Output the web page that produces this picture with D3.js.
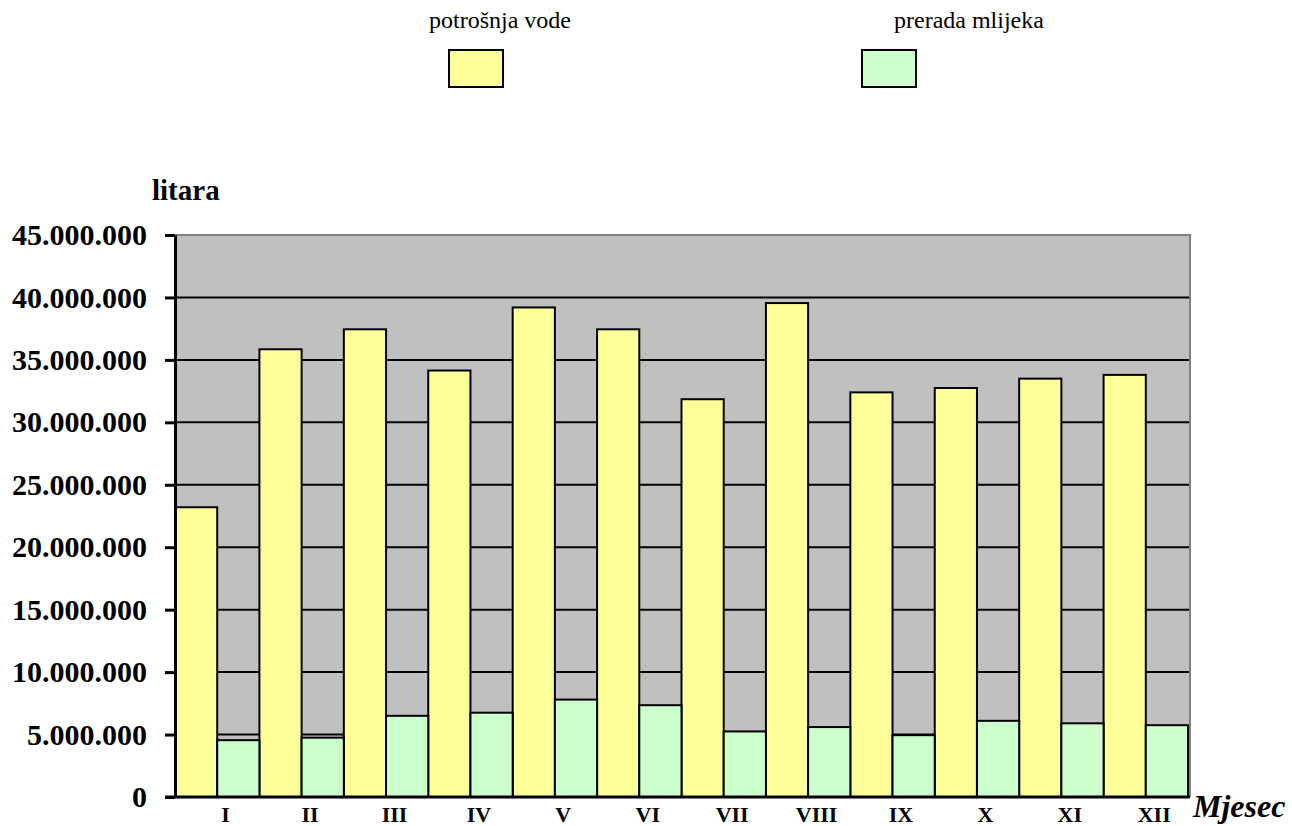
<!DOCTYPE html>
<html>
<head>
<meta charset="utf-8">
<script src="https://cdn.jsdelivr.net/npm/d3@7"></script>
<style>
  body { margin: 0; background: #fff; }
  svg text { font-family: "Liberation Serif", "Times New Roman", Times, "DejaVu Serif", serif; }
</style>
</head>
<body>
<div id="container"></div>
<script>
// Data
const months = ["I", "II", "III", "IV", "V", "VI", "VII", "VIII", "IX", "X", "XI", "XII"];
const potrosnjaVode = [23200000, 35850000, 37450000, 34150000, 39200000, 37450000, 31850000, 39550000, 32400000, 32750000, 33500000, 33800000];
const preradaMlijeka = [4550000, 4750000, 6500000, 6750000, 7800000, 7350000, 5250000, 5600000, 4950000, 6100000, 5900000, 5750000];
const yTicks = [0, 5000000, 10000000, 15000000, 20000000, 25000000, 30000000, 35000000, 40000000, 45000000];
const seriesNames = ["potrošnja vode", "prerada mlijeka"];

// Chart dimensions
const width = 1292;
const height = 826;
const plotLeft = 175;
const plotRight = 1190;
const plotTop = 235;
const plotBottom = 797;
const serif = '"Liberation Serif", "Times New Roman", Times, "DejaVu Serif", serif';

const colors = ["#FFFF99", "#CCFFCC"];

const x = d3.scaleBand()
  .domain(months)
  .range([plotLeft, 1188])
  .padding(0);

const y = d3.scaleLinear()
  .domain([0, 45000000])
  .range([plotBottom, plotTop]);

const locale = d3.formatLocale({ decimal: ",", thousands: ".", grouping: [3], currency: ["", ""] });
const fmt = locale.format(",d");

const svg = d3.create("svg")
  .attr("width", width)
  .attr("height", height)
  .attr("font-family", serif)
  .attr("viewBox", [0, 0, width, height]);

svg.append("rect")
  .attr("width", width)
  .attr("height", height)
  .attr("fill", "#fff");

// Plot area
svg.append("rect")
  .attr("x", plotLeft)
  .attr("y", plotTop)
  .attr("width", plotRight - plotLeft)
  .attr("height", plotBottom - plotTop)
  .attr("fill", "#C0C0C0");

// top and right border in grey
svg.append("path")
  .attr("d", `M${plotLeft},${plotTop}H${plotRight}V${plotBottom}`)
  .attr("fill", "none")
  .attr("stroke", "#808080")
  .attr("stroke-width", 2);

// Gridlines
svg.append("g")
  .selectAll("line")
  .data(yTicks.filter(d => d > 0 && d < 45000000))
  .join("line")
  .attr("x1", plotLeft)
  .attr("x2", plotRight - 1)
  .attr("y1", d => y(d))
  .attr("y2", d => y(d))
  .attr("stroke", "#000")
  .attr("stroke-width", 2);

// Bars
const bw = x.bandwidth() / 2;
const series = [potrosnjaVode, preradaMlijeka];
series.forEach((values, s) => {
  svg.append("g")
    .selectAll("rect")
    .data(months)
    .join("rect")
    .attr("x", d => x(d) + s * bw)
    .attr("y", (d, i) => y(values[i]))
    .attr("width", bw)
    .attr("height", (d, i) => y(0) - y(values[i]))
    .attr("fill", colors[s])
    .attr("stroke", "#000")
    .attr("stroke-width", 2);
});

// Y axis
const yAxis = svg.append("g")
  .attr("transform", `translate(${plotLeft},0)`)
  .call(d3.axisLeft(y).tickValues(yTicks).tickFormat(fmt).tickSize(10).tickSizeOuter(0).tickPadding(18));
yAxis.attr("font-family", null).attr("font-size", null);
yAxis.selectAll("path, line").attr("stroke", "#000").attr("stroke-width", 3);
yAxis.selectAll("text")
  .attr("fill", "#000")
  .style("font-family", serif)
  .style("font-size", "30px")
  .style("font-weight", "bold");

// X axis
const xAxis = svg.append("g")
  .attr("transform", `translate(0,${plotBottom})`)
  .call(d3.axisBottom(x).tickSize(0).tickSizeOuter(0));
xAxis.attr("font-family", null).attr("font-size", null);
xAxis.select(".domain")
  .attr("stroke", "#000")
  .attr("stroke-width", 3)
  .attr("d", `M${plotLeft - 10},0H${plotRight}`);
xAxis.selectAll("text")
  .attr("fill", "#000")
  .attr("y", 25)
  .attr("dy", 0)
  .attr("dx", x.bandwidth() * 0.1)
  .style("font-family", serif)
  .style("font-size", "22px")
  .style("font-weight", "bold");

// Axis titles
svg.append("text")
  .attr("x", 152)
  .attr("y", 200)
  .style("font-size", "29px")
  .style("font-weight", "bold")
  .text("litara");

svg.append("text")
  .attr("x", 1193)
  .attr("y", 817)
  .style("font-size", "32px")
  .style("font-weight", "bold")
  .style("font-style", "italic")
  .text("Mjesec");

// Legend
const legendItems = [
  { name: seriesNames[0], color: colors[0], tx: 429, sx: 449 },
  { name: seriesNames[1], color: colors[1], tx: 894, sx: 862 }
];
const legend = svg.append("g")
  .selectAll("g")
  .data(legendItems)
  .join("g");
legend.append("text")
  .attr("x", d => d.tx)
  .attr("y", 28)
  .style("font-size", "24px")
  .text(d => d.name);
legend.append("rect")
  .attr("x", d => d.sx)
  .attr("y", 50)
  .attr("width", 54)
  .attr("height", 37)
  .attr("fill", d => d.color)
  .attr("stroke", "#000")
  .attr("stroke-width", 2);

document.getElementById("container").append(svg.node());
</script>
</body>
</html>
